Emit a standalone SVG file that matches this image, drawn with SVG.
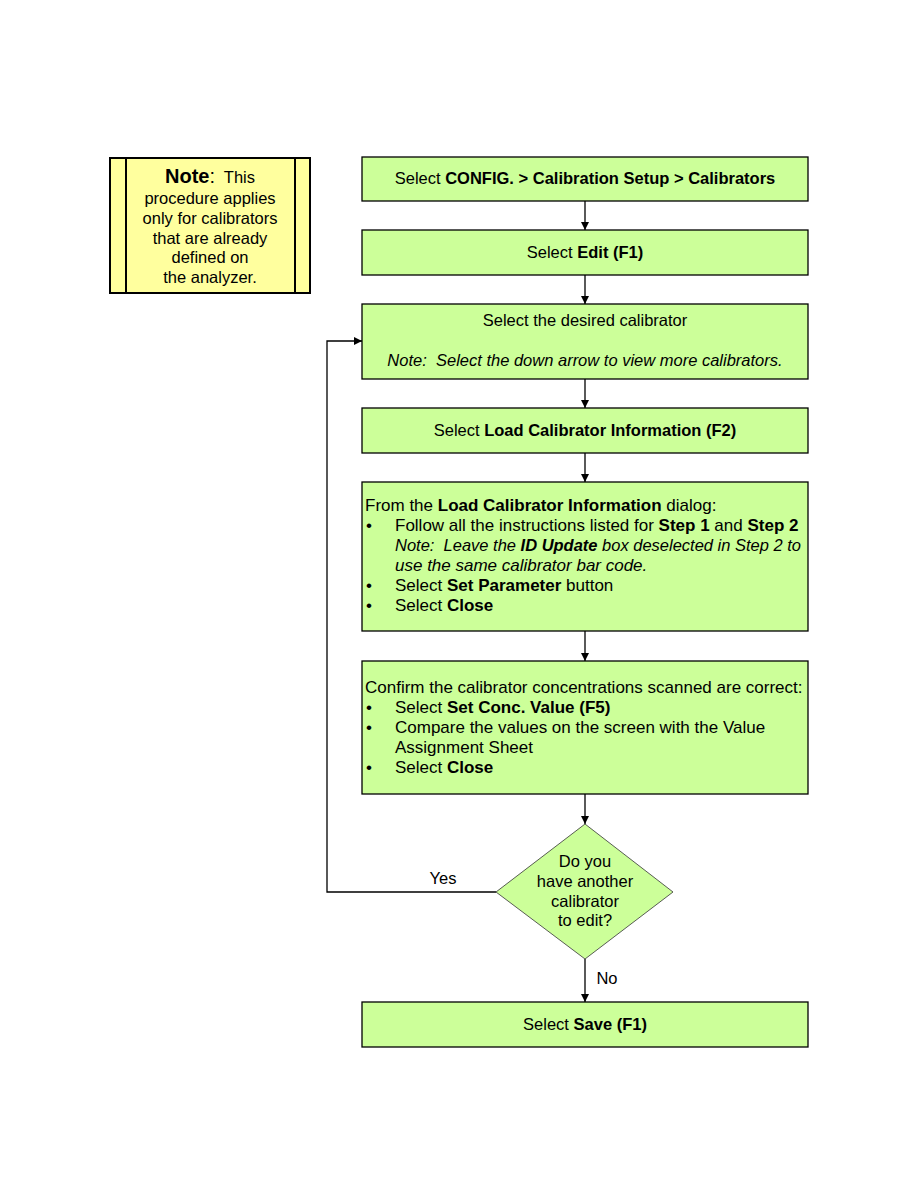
<svg xmlns="http://www.w3.org/2000/svg" width="918" height="1188" viewBox="0 0 918 1188">
<style>
.box{fill:#CCFF99;stroke:#000;stroke-width:1.3}
.dia{fill:#CCFF99;stroke:#333;stroke-width:0.8}
.note{fill:#FFFF9E;stroke:#000;stroke-width:2}
text{font-family:"Liberation Sans",Arial,sans-serif;font-size:16.5px;fill:#000}
.l{font-size:17px}
.c{text-anchor:middle}
.b{font-weight:bold}
.i{font-style:italic}
.con{fill:none;stroke:#000;stroke-width:1.3}
</style>
<defs>
<marker id="ah" viewBox="0 0 10 10" refX="10" refY="5" markerWidth="8" markerHeight="8" markerUnits="userSpaceOnUse" orient="auto">
<path d="M0,0 L10,5 L0,10 z" fill="#000"/>
</marker>
</defs>
<g id="connectors">
<line class="con" x1="585" y1="201" x2="585" y2="230" marker-end="url(#ah)"/>
<line class="con" x1="585" y1="275" x2="585" y2="304" marker-end="url(#ah)"/>
<line class="con" x1="585" y1="379" x2="585" y2="408" marker-end="url(#ah)"/>
<line class="con" x1="585" y1="453" x2="585" y2="482" marker-end="url(#ah)"/>
<line class="con" x1="585" y1="631" x2="585" y2="661" marker-end="url(#ah)"/>
<line class="con" x1="585" y1="794" x2="585" y2="824" marker-end="url(#ah)"/>
<line class="con" x1="585" y1="959" x2="585" y2="1002" marker-end="url(#ah)"/>
<polyline class="con" points="496,892 327,892 327,341 362,341" marker-end="url(#ah)"/>
<text x="443" y="884" class="c">Yes</text>
<text x="607" y="984" class="c">No</text>
</g>
<g id="note">
<rect class="note" x="110" y="158" width="200" height="135"/>
<line x1="126" y1="158" x2="126" y2="293" stroke="#000" stroke-width="2"/>
<line x1="295" y1="158" x2="295" y2="293" stroke="#000" stroke-width="2"/>
<text x="210" y="183" class="c"><tspan class="b" font-size="20">Note</tspan><tspan font-size="20">:</tspan>&#160; This</text>
<text x="210" y="204" class="c">procedure applies</text>
<text x="210" y="224" class="c">only for calibrators</text>
<text x="210" y="244" class="c">that are already</text>
<text x="210" y="263" class="c">defined on</text>
<text x="210" y="283" class="c">the analyzer.</text>
</g>
<g id="n1">
<rect class="box" x="362" y="157" width="446" height="44"/>
<text x="585" y="184" class="c">Select <tspan class="b">CONFIG. &gt; Calibration Setup &gt; Calibrators</tspan></text>
</g>
<g id="n2">
<rect class="box" x="362" y="230" width="446" height="45"/>
<text x="585" y="258" class="c">Select <tspan class="b">Edit (F1)</tspan></text>
</g>
<g id="n3">
<rect class="box" x="362" y="304" width="446" height="75"/>
<text x="585" y="326" class="c">Select the desired calibrator</text>
<text x="585" y="366" class="c i">Note:&#160; Select the down arrow to view more calibrators.</text>
</g>
<g id="n4">
<rect class="box" x="362" y="408" width="446" height="45"/>
<text x="585" y="436" class="c">Select <tspan class="b">Load Calibrator Information (F2)</tspan></text>
</g>
<g id="n5">
<rect class="box" x="362" y="482" width="446" height="149"/>
<text class="l" x="365" y="511">From the <tspan class="b">Load Calibrator Information</tspan> dialog:</text>
<text class="l" x="366" y="531">•</text>
<text class="l" x="395" y="531">Follow all the instructions listed for <tspan class="b">Step 1</tspan> and <tspan class="b">Step 2</tspan></text>
<text class="l i" x="395" y="551" textLength="406" lengthAdjust="spacingAndGlyphs">Note:&#160; Leave the <tspan class="b">ID Update</tspan> box deselected in Step 2 to</text>
<text class="l i" x="395" y="571">use the same calibrator bar code.</text>
<text class="l" x="366" y="591">•</text>
<text class="l" x="395" y="591">Select <tspan class="b">Set Parameter</tspan> button</text>
<text class="l" x="366" y="611">•</text>
<text class="l" x="395" y="611">Select <tspan class="b">Close</tspan></text>
</g>
<g id="n6">
<rect class="box" x="362" y="661" width="446" height="133"/>
<text class="l" x="365" y="693">Confirm the calibrator concentrations scanned are correct:</text>
<text class="l" x="366" y="713">•</text>
<text class="l" x="395" y="713">Select <tspan class="b">Set Conc. Value (F5)</tspan></text>
<text class="l" x="366" y="733">•</text>
<text class="l" x="395" y="733">Compare the values on the screen with the Value</text>
<text class="l" x="395" y="753">Assignment Sheet</text>
<text class="l" x="366" y="773">•</text>
<text class="l" x="395" y="773">Select <tspan class="b">Close</tspan></text>
</g>
<g id="n7">
<polygon class="dia" points="585,824 673,892 585,959 496,892"/>
<text x="585" y="867" class="c">Do you</text>
<text x="585" y="887" class="c">have another</text>
<text x="585" y="907" class="c">calibrator</text>
<text x="585" y="926" class="c">to edit?</text>
</g>
<g id="n8">
<rect class="box" x="362" y="1002" width="446" height="45"/>
<text x="585" y="1030" class="c">Select <tspan class="b">Save (F1)</tspan></text>
</g>
</svg>
